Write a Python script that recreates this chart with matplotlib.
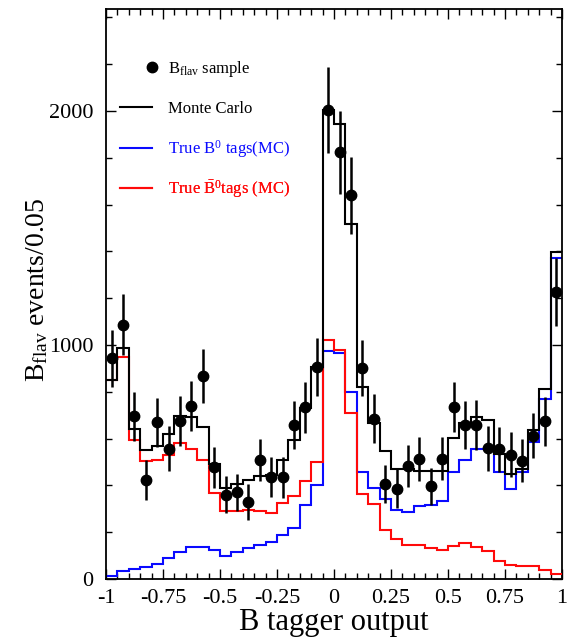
import numpy as np
import matplotlib
matplotlib.use("Agg")
import matplotlib.pyplot as plt
from matplotlib.lines import Line2D
from matplotlib.legend_handler import HandlerBase

# ---------------- data ----------------
bin_lo, bin_hi, n_bins = -1.0, 1.0, 40
bin_edges = np.linspace(bin_lo, bin_hi, n_bins + 1)
bin_centers = 0.5 * (bin_edges[:-1] + bin_edges[1:])

data_counts = [944, 1087, 695, 424, 670, 557, 674, 741, 866, 477,
               360, 370, 329, 510, 436, 434, 657, 734, 906, 2005,
               1824, 1640, 902, 685, 407, 386, 484, 514, 396, 513,
               735, 657, 660, 558, 554, 532, 506, 613, 674, 1228]
data_err = [122, 130, 105, 85, 105, 96, 107, 107, 115, 89,
            80, 80, 76, 90, 85, 88, 103, 110, 125, 185,
            178, 165, 121, 105, 82, 83, 90, 94, 80, 92,
            108, 103, 107, 98, 96, 95, 93, 98, 105, 145]
mc_total = [852, 987, 641, 553, 570, 621, 695, 692, 648, 491,
            389, 408, 424, 441, 446, 510, 593, 730, 905, 2003,
            1946, 1517, 820, 667, 546, 470, 468, 462, 460, 460,
            604, 665, 692, 680, 534, 447, 470, 638, 813, 1399]
mc_b0 = [11, 33, 43, 51, 64, 90, 115, 137, 137, 125,
         97, 115, 132, 144, 157, 187, 220, 315, 403, 973,
         965, 798, 456, 389, 340, 296, 286, 313, 316, 332,
         456, 510, 556, 556, 459, 385, 458, 584, 770, 1370]
mc_b0bar = [849, 947, 595, 503, 510, 528, 581, 557, 510, 369,
            291, 291, 297, 291, 284, 323, 354, 420, 501, 1022,
            980, 709, 364, 322, 211, 172, 144, 144, 132, 123,
            142, 154, 135, 118, 78, 61, 54, 54, 37, 21]

x_ticks = [-1, -0.75, -0.5, -0.25, 0, 0.25, 0.5, 0.75, 1]
x_tick_labels = ["-1", "-0.75", "-0.5", "-0.25", "0", "0.25", "0.5", "0.75", "1"]
y_ticks = [0, 1000, 2000]
y_tick_labels = ["0", "1000", "2000"]

legend_labels = [r"B$_{\rm flav}$ sample", "Monte Carlo",
                 r"True B$^{0}$ tags(MC)", r"True $\bar{\mathrm{B}}^{0}$tags (MC)"]
legend_colors = ["black", "black", "#0a0aff", "#ff0a0a"]

# ---------------- style ----------------
plt.rcParams["font.family"] = ["Liberation Serif", "DejaVu Serif"]
plt.rcParams["mathtext.fontset"] = "custom"
plt.rcParams["mathtext.rm"] = "Liberation Serif"
plt.rcParams["mathtext.it"] = "Liberation Serif:italic"
plt.rcParams["mathtext.bf"] = "Liberation Serif:bold"
plt.rcParams["axes.unicode_minus"] = False

fig = plt.figure(figsize=(5.73, 6.38), dpi=100)
fig.patch.set_facecolor("white")
ax = fig.add_axes([106 / 573, 1 - 579 / 638, 456 / 573, 570 / 638])

lw = 1.5
ax.stairs(mc_b0, bin_edges, baseline=None, color=legend_colors[2], lw=lw, zorder=2)
ax.stairs(mc_b0bar, bin_edges, baseline=None, color=legend_colors[3], lw=lw, zorder=3)
ax.stairs(mc_total, bin_edges, baseline=None, color="black", lw=lw, zorder=4)
ax.errorbar(bin_centers, data_counts, yerr=data_err, fmt="o", color="black",
            ms=7.5, elinewidth=1.8, capsize=0, zorder=5)

ax.set_xlim(bin_lo, bin_hi)
ax.set_ylim(0, 2436)

ax.set_xticks(x_ticks)
ax.set_xticklabels(x_tick_labels)
ax.set_xticks(np.arange(-1, 1.0001, 0.05), minor=True)
ax.set_yticks(y_ticks)
ax.set_yticklabels(y_tick_labels)
ax.set_yticks(np.arange(0, 2436, 200), minor=True)

ax.tick_params(which="both", direction="in", top=True, right=True, width=1.0,
               labelsize=16, colors="black")
ax.tick_params(which="major", length=7.5)
ax.tick_params(which="minor", length=4.3)
ax.tick_params(axis="x", which="major", pad=7)
ax.tick_params(axis="y", which="major", pad=9)
for s in ax.spines.values():
    s.set_linewidth(1.3)

ax.set_xlabel("B tagger output", fontsize=22)
ax.xaxis.label.set_va("baseline")
ax.xaxis.set_label_coords(0.5, -0.0895)
ax.set_ylabel(r"B$_{\rm flav}$ events/0.05", fontsize=20)
ax.yaxis.set_label_coords(-0.122, 0.507)


class HandlerDotRight(HandlerBase):
    def create_artists(self, legend, orig_handle, xdescent, ydescent,
                       width, height, fontsize, trans):
        ln = Line2D([width - xdescent], [(height - ydescent) / 2],
                    linestyle="none", marker="o", color="black",
                    markersize=orig_handle.get_markersize())
        ln.set_transform(trans)
        return [ln]


handles = [Line2D([], [], linestyle="none", marker="o", color="black", markersize=7.5),
           Line2D([], [], color="black", lw=lw),
           Line2D([], [], color=legend_colors[2], lw=lw),
           Line2D([], [], color=legend_colors[3], lw=lw)]
row_y = [0.8953, 0.8251, 0.7549, 0.6847]
for i, (h, lab, col, yy) in enumerate(zip(handles, legend_labels, legend_colors, row_y)):
    hm = {h: HandlerDotRight()} if i == 0 else None
    leg = ax.legend([h], [lab], handler_map=hm, loc="center left",
                    bbox_to_anchor=(0.0307, yy), frameon=False, fontsize=12,
                    handlelength=1.92, handletextpad=0.95, borderpad=0,
                    borderaxespad=0)
    leg.get_texts()[0].set_color(col)
    ax.add_artist(leg)

fig.savefig("out.png", dpi=100)
